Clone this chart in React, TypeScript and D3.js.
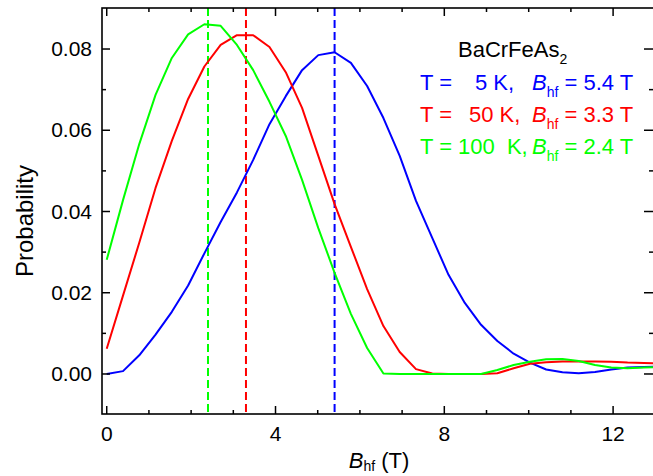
import React from 'react';
import * as d3 from 'd3';

// ---- data ----
const bHf = [0, 0.386, 0.771, 1.157, 1.543, 1.929, 2.314, 2.7, 3.086, 3.471, 3.857, 4.243, 4.629, 5.014, 5.4, 5.786, 6.171, 6.557, 6.943, 7.329, 7.714, 8.1, 8.486, 8.871, 9.257, 9.643, 10.029, 10.414, 10.8, 11.186, 11.571, 11.957, 12.343, 12.729, 13.114];
const prob5K = [0.0, 0.0007, 0.0046, 0.0097, 0.0153, 0.0218, 0.0297, 0.0374, 0.0447, 0.0527, 0.0615, 0.0684, 0.0748, 0.0785, 0.0792, 0.0766, 0.0709, 0.063, 0.0537, 0.0426, 0.0335, 0.0244, 0.0175, 0.0121, 0.0081, 0.005, 0.0028, 0.0011, 0.0004, 0.0002, 0.0005, 0.0011, 0.0016, 0.0017, 0.0018];
const prob50K = [0.0062, 0.0193, 0.0323, 0.0458, 0.0574, 0.0677, 0.0757, 0.081, 0.0834, 0.0834, 0.0805, 0.0743, 0.0655, 0.0537, 0.0418, 0.0313, 0.0209, 0.0118, 0.0054, 0.0012, 0.0001, 0.0, 0.0, 0.0, 0.0002, 0.0014, 0.0025, 0.0029, 0.0031, 0.0031, 0.0031, 0.003, 0.0028, 0.0027, 0.0026];
const prob100K = [0.0281, 0.0428, 0.0566, 0.0687, 0.0778, 0.0836, 0.0861, 0.0857, 0.081, 0.0748, 0.067, 0.0586, 0.0478, 0.0359, 0.0249, 0.0148, 0.0064, 0.0001, 0.0, 0.0, 0.0, 0.0, 0.0, 0.0, 0.001, 0.0022, 0.003, 0.0036, 0.0037, 0.0032, 0.0022, 0.0016, 0.0014, 0.0016, 0.0017];
const peakFields = [5.4, 3.3, 2.4];
const tempLabels = ['5', '50', '100'];
const fieldLabels = ['5.4', '3.3', '2.4'];
const xMajorTicks = [0, 4, 8, 12];
const xMinorTicks = [1, 2, 3, 5, 6, 7, 9, 10, 11, 13];
const yMajorTicks = [0, 0.02, 0.04, 0.06, 0.08];
const yMinorTicks = [0.01, 0.03, 0.05, 0.07];

const colors = ['#0000ff', '#ff0000', '#00ff00'];
const seriesValues = [prob5K, prob50K, prob100K];

const W = 653;
const H = 476;
const L = 102;
const R = 654;
const T = 8;
const B = 414;
const FONT = "'Liberation Sans', Arial, sans-serif";

export default function App() {
  const x = d3.scaleLinear().domain([-0.1, 13]).range([102.5, 655.3]);
  const y = d3.scaleLinear().domain([-0.01, 0.09]).range([414.6, 8.4]);
  const line = d3.line<[number, number]>().x(d => x(d[0])).y(d => y(d[1]));

  const tempX = [475, 469, 458];
  const rowY = [89.5, 121.8, 154];

  return (
    <svg width={W} height={H} style={{ position: 'absolute', left: 0, top: 0, background: '#fff' }} fontFamily={FONT}>
      <defs>
        <clipPath id="plot">
          <rect x={L} y={T} width={R - L} height={B - T} />
        </clipPath>
      </defs>
      <rect x={0} y={0} width={W} height={H} fill="#fff" />
      <g clipPath="url(#plot)">
        {peakFields.map((p, i) => (
          <line key={'d' + i} x1={x(p)} x2={x(p)} y1={T} y2={B} stroke={colors[i]} strokeWidth={2} strokeDasharray="8,4" />
        ))}
        {seriesValues.map((vals, i) => (
          <path key={'s' + i} d={line(bHf.map((b, j) => [b, vals[j]] as [number, number])) || ''} fill="none" stroke={colors[i]} strokeWidth={2} strokeLinejoin="round" />
        ))}
      </g>
      {/* frame */}
      <rect x={L} y={T} width={R - L} height={B - T} fill="none" stroke="#000" strokeWidth={1.6} />
      {/* x ticks */}
      {xMajorTicks.map(t => (
        <g key={'xm' + t}>
          <line x1={x(t)} x2={x(t)} y1={B} y2={B - 8} stroke="#000" strokeWidth={1.5} />
          <line x1={x(t)} x2={x(t)} y1={T} y2={T + 8} stroke="#000" strokeWidth={1.5} />
          <text x={x(t)} y={440.5} fontSize={21} textAnchor="middle">{t}</text>
        </g>
      ))}
      {xMinorTicks.map(t => (
        <g key={'xn' + t}>
          <line x1={x(t)} x2={x(t)} y1={B} y2={B - 4} stroke="#000" strokeWidth={1.5} />
          <line x1={x(t)} x2={x(t)} y1={T} y2={T + 4} stroke="#000" strokeWidth={1.5} />
        </g>
      ))}
      {/* y ticks */}
      {yMajorTicks.map(t => (
        <g key={'ym' + t}>
          <line x1={L} x2={L + 8} y1={y(t)} y2={y(t)} stroke="#000" strokeWidth={1.5} />
          <line x1={R} x2={R - 10} y1={y(t)} y2={y(t)} stroke="#000" strokeWidth={1.5} />
          <text x={92} y={y(t) + 7} fontSize={21} textAnchor="end">{t.toFixed(2)}</text>
        </g>
      ))}
      {yMinorTicks.map(t => (
        <g key={'yn' + t}>
          <line x1={L} x2={L + 4} y1={y(t)} y2={y(t)} stroke="#000" strokeWidth={1.5} />
          <line x1={R} x2={R - 5} y1={y(t)} y2={y(t)} stroke="#000" strokeWidth={1.5} />
        </g>
      ))}
      {/* axis labels */}
      <text transform="translate(33,221) rotate(-90)" fontSize={24} textAnchor="middle">Probability</text>
      <text x={379} y={468} fontSize={22} textAnchor="middle">
        <tspan fontStyle="italic">B</tspan>
        <tspan fontSize={14} dy={3}>hf</tspan>
        <tspan dy={-3}> (T)</tspan>
      </text>
      {/* legend */}
      <text x={458} y={57} fontSize={22}>
        BaCrFeAs<tspan fontSize={14} dy={7}>2</tspan>
      </text>
      {tempLabels.map((tl, i) => (
        <g key={'lg' + i} fill={colors[i]} fontSize={22}>
          <text x={420} y={rowY[i]}>T =</text>
          <text x={tempX[i]} y={rowY[i]} style={{ whiteSpace: 'pre' }}>{tl + (i === 2 ? '  K,' : ' K,')}</text>
          <text x={532} y={rowY[i]}>
            <tspan fontStyle="italic">B</tspan>
            <tspan fontSize={14} dy={7}>hf</tspan>
            <tspan dy={-7}>{' = ' + fieldLabels[i] + ' T'}</tspan>
          </text>
        </g>
      ))}
    </svg>
  );
}
